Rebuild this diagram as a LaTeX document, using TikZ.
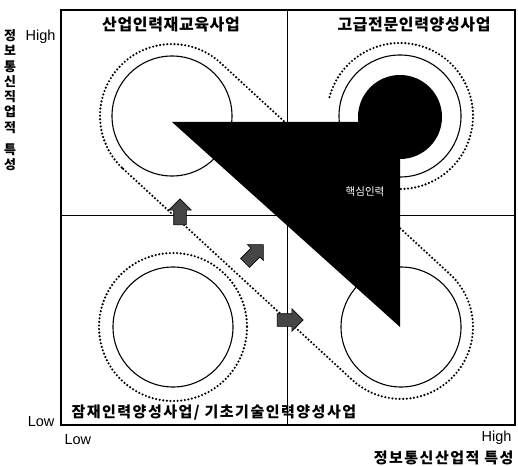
\documentclass[tikz,border=0pt]{standalone}
\usepackage{fontspec}
\setmainfont{Liberation Sans}
\newfontfamily\kr{Noto Sans CJK KR}
\usetikzlibrary{shapes.arrows}

\begin{document}
\begin{tikzpicture}[x=1pt,y=-1pt,
  dots/.style={line width=2.4pt,dash pattern=on 0pt off 3.6pt,line cap=round},
  ring/.style={line width=1.1pt},
  head/.style={font=\kr\bfseries\fontsize{16}{18}\selectfont\addfontfeature{LetterSpace=4}},
  axis/.style={font=\fontsize{14.5}{17}\selectfont},
  blockarrow/.style={single arrow,draw=black,line width=0.6pt,fill=gray!55!black,
    minimum height=26pt,inner xsep=0pt,inner ysep=6pt,single arrow head extend=5pt}]
\useasboundingbox (0,0) rectangle (518,465);
% quadrants
\draw[line width=0.9pt](287,10)--(287,425);
\draw[line width=0.9pt](61,215)--(515,215);
% dotted zones
\draw[dots](123.2,168.9)--(352.2,379.9)
  arc[start angle=132.65,end angle=-47.35,radius=72]
  --(220.8,63.1)
  arc[start angle=-47.35,end angle=-227.35,radius=72];
\draw[dots](173,327)circle[radius=74];
\draw[dots](400,116)++(195:73)arc[start angle=195,end angle=455,radius=73];
% solid rings
\draw[ring](172,116)circle[radius=60];
\draw[ring](400,116)circle[radius=61];
\draw[ring](173,327)circle[radius=60];
\draw[ring](401,327)circle[radius=60];
% core
\fill(172,122)--(400,122)--(400,327)--cycle;
\fill(400,117)circle[radius=42];
\node[text=white,font=\kr\fontsize{10.5}{12}\selectfont](core)at(365,192){핵심인력};
% moves
\node[blockarrow,rotate=90](up)at(180,215){};
\node[blockarrow,rotate=45](diag)at(252,256){};
\node[blockarrow](right)at(287,320){};
% frame
\draw[line width=1.3pt](61,10)rectangle(515,425);
% labels
\node[head](tl)at(171,25){산업인력재교육사업};
\node[head](tr)at(414,25){고급전문인력양성사업};
\node[font=\kr\bfseries\fontsize{15}{17}\selectfont\addfontfeature{LetterSpace=10},anchor=west](bl)at(68,413){잠재인력양성사업/ 기초기술인력양성사업};
\node[axis,anchor=east](yhigh)at(59,37){High};
\node[axis,anchor=east](ylow)at(58,422){Low};
\node[axis,anchor=west](xlow)at(61,440){Low};
\node[axis,anchor=east](xhigh)at(515,438){High};
\node[font=\kr\bfseries\fontsize{15}{16}\selectfont\addfontfeature{LetterSpace=10},anchor=east](xname)at(517,458){정보통신산업적 특성};
\node[font=\kr\bfseries\fontsize{13}{15.3}\selectfont,align=center,anchor=north](yname)at(10,26){정\\보\\통\\신\\직\\업\\적\\[7pt]특\\성};
\end{tikzpicture}
\end{document}
